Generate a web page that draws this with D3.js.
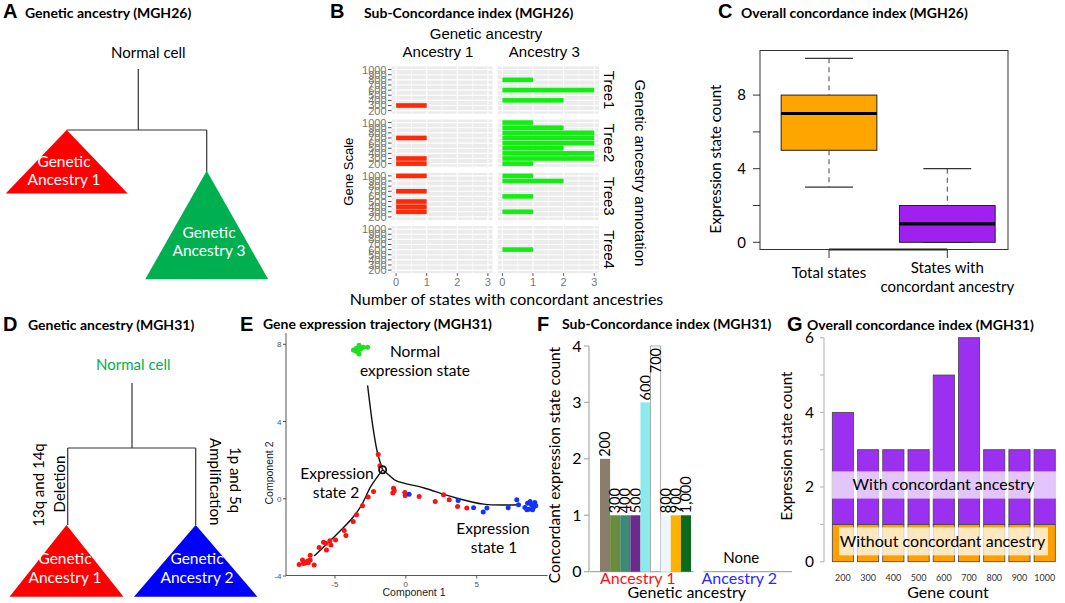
<!DOCTYPE html>
<html><head><meta charset="utf-8">
<script src="https://cdn.jsdelivr.net/npm/d3@7"></script>
<style>
body{margin:0;background:#fff}
svg{display:block}
</style></head><body>
<svg id="fig" width="1065" height="603"></svg>
<script>
// ================= DATA =================
const panelLetters = ["A","B","C","D","E","F","G"];
const panelTitles = ["Genetic ancestry (MGH26)","Sub-Concordance index (MGH26)","Overall concordance index (MGH26)",
  "Genetic ancestry (MGH31)","Gene expression trajectory (MGH31)","Sub-Concordance index (MGH31)","Overall concordance index (MGH31)"];

// Panel A / D tree diagrams
const aRootLabel = "Normal cell";
const aLeafLabels = [["Genetic","Ancestry 1"],["Genetic","Ancestry 3"]];
const dRootLabel = "Normal cell";
const dLeafLabels = [["Genetic","Ancestry 1"],["Genetic","Ancestry 2"]];
const dLeftEvent = ["13q and 14q","Deletion"];
const dRightEvent = ["1p and 5q","Amplification"];

// Panel B: sub-concordance (counts per gene scale 200..1000)
const bGeneScale = [200,300,400,500,600,700,800,900,1000];
const bTrees = ["Tree1","Tree2","Tree3","Tree4"];
const bAncestries = ["Ancestry 1","Ancestry 3"];
const bXTicks = [0,1,2,3];
const bTree1Anc1 = [0,1,0,0,0,0,0,0,0];
const bTree1Anc3 = [0,0,2,0,3,0,1,0,0];
const bTree2Anc1 = [1,1,0,0,0,1,0,0,0];
const bTree2Anc3 = [1,3,3,2,3,3,3,2,1];
const bTree3Anc1 = [0,1,1,1,0,1,0,0,1];
const bTree3Anc3 = [0,1,0,0,1,0,0,2,1];
const bTree4Anc1 = [0,0,0,0,0,0,0,0,0];
const bTree4Anc3 = [0,0,0,0,1,0,0,0,0];

// Panel C: boxplot stats
const cCategories = ["Total states","States with concordant ancestry"];
const cMin = [3,0];
const cQ1 = [5,0];
const cMedian = [7,1];
const cQ3 = [8,2];
const cMax = [10,4];
const cYTicks = [0,2,4,6,8];
const cYLabels = [0,4,8];

// Panel E: trajectory
const eGreen = [[-3.7,7.7],[-3.5,7.8],[-3.3,7.95],[-3.4,7.6],[-3.2,7.75],[-3.0,7.85],[-2.7,7.85],[-3.3,7.5],[-3.55,7.65]];
const eRed = [[-1.95,2.29],[-1.83,1.71],[-2.28,0.38],[-2.66,0.09],[-3.06,-0.36],[-3.48,-0.83],[-3.72,-1.18],
  [-4.35,-1.64],[-4.23,-1.9],[-4.96,-2.13],[-5.36,-2.18],[-5.29,-2.39],[-5.65,-2.3],[-5.81,-2.25],[-5.6,-2.65],
  [-6.12,-2.53],[-6.75,-2.93],[-6.94,-3.22],[-7.06,-3.31],[-7.22,-3.35],[-7.53,-3.4],[-7.29,-3.17],[-6.47,-3.43],
  [-6.75,-3.17],[-6.89,-3.32],
  [-0.87,0.55],[-0.82,0.42],[-0.92,0.3],[-0.07,0.33],[-0.05,0.17],[0.94,0.12],[2.07,-0.14],
  [2.66,0.21],[3.06,-0.05],[3.65,-0.4],[4.3,-0.48]];
const eBlue = [[0.23,0.24],[3.69,-0.09],[4.78,-0.47],[5.46,-0.69],[5.72,-0.48],[7.22,-0.47],[7.83,-0.05],[7.95,-0.31],
  [8.4,-0.45],[8.59,-0.23],[8.7,-0.54],[8.87,-0.31],[9.01,-0.45],[9.1,-0.19],[8.77,-0.14],[9.17,-0.36],[8.54,-0.57],[8.94,-0.57]];
const eBranchNormal = [[-2.7,5.87],[-2.3,3.6],[-2.0,2.37],[-1.64,1.5]];
const eBranchState2 = [[-1.64,1.5],[-2.47,0.64],[-3.18,-0.4],[-3.88,-1.09],[-4.8,-1.78],[-5.65,-2.39],[-6.47,-2.96]];
const eBranchState1 = [[-1.64,1.5],[-1.18,1.22],[-0.7,0.94],[1.29,0.56],[3.18,0.12],[5.5,-0.28],[7.9,-0.31]];
const eBranchPoint = [-1.64,1.5];
const eXTicks = [-5,0,5];
const eYTicks = [-4,0,4,8];

// Panel F
const fGroups = ["Ancestry 1","Ancestry 2"];
const fGenes = ["200","300","400","500","600","700","800","900","1,000"];
const fCounts = [2,1,1,1,3,4,1,1,1];
const fYTicks = [0,1,2,3,4];
const fEmptyLabel = "None";

// Panel G
const gGenes = ["200","300","400","500","600","700","800","900","1000"];
const gWithout = [1,1,1,1,1,1,1,1,1];
const gWith = [3,2,2,2,4,5,2,2,2];
const gYTicks = [0,1,2,3,4,5,6];
const gYLabels = [0,2,4,6];
const gSeriesLabels = ["With concordant ancestry","Without concordant ancestry"];

// ================= DRAWING =================
const svg = d3.select("#fig");
const CAL = "Lato, 'Open Sans', sans-serif";
const ARI = "'Liberation Sans', Arial, sans-serif";
function txt(g, x, y, s, o = {}) {
  const t = g.append("text").attr("x", x).attr("y", y).text(s)
    .attr("font-family", o.ff || CAL).attr("font-size", o.fs || 15)
    .attr("fill", o.fill || "#000").attr("text-anchor", o.anchor || "start");
  if (o.fw) t.attr("font-weight", o.fw);
  if (o.rot) t.attr("transform", `rotate(${o.rot},${x},${y})`);
  return t;
}
function ln(g, x1, y1, x2, y2, stroke, w, dash) {
  const l = g.append("line").attr("x1", x1).attr("y1", y1).attr("x2", x2).attr("y2", y2)
    .attr("stroke", stroke).attr("stroke-width", w);
  if (dash) l.attr("stroke-dasharray", dash);
  return l;
}

// Panel headings
const letterPos = [[3,18],[330,18],[718,18],[3,331],[240,331],[537,331],[787,331]];
const titlePos = [[25,18],[364,18],[741,18],[28,330],[263,329],[562,329],[807,330]];
panelLetters.forEach((L, i) => {
  txt(svg, letterPos[i][0], letterPos[i][1], L, {ff: ARI, fw: "bold", fs: 20});
  txt(svg, titlePos[i][0], titlePos[i][1], panelTitles[i], {fw: "bold", fs: 14});
});

// ---------- Tree diagrams (A, D) ----------
function tri(g, cx, top, halfW, h, color) {
  g.append("path").attr("d", `M${cx},${top}L${cx + halfW},${top + h}L${cx - halfW},${top + h}Z`).attr("fill", color);
}
const gA = svg.append("g");
txt(gA, 148.3, 58, aRootLabel, {anchor: "middle", fs: 15});
ln(gA, 138.3, 69, 138.3, 130, "#333", 1.2);
ln(gA, 66.7, 130, 206.7, 130, "#333", 1.2);
ln(gA, 206.7, 130, 206.7, 171.7, "#333", 1.2);
tri(gA, 66.7, 130, 61, 63.5, "#ff0000");
tri(gA, 206.7, 170.7, 61.5, 108.6, "#00b050");
aLeafLabels[0].forEach((s, i) => txt(gA, 64, 166.5 + i * 18, s, {anchor: "middle", fs: 15.5, fill: "#fff"}));
aLeafLabels[1].forEach((s, i) => txt(gA, 209, 237.5 + i * 18.5, s, {anchor: "middle", fs: 15.5, fill: "#fff"}));

const gD = svg.append("g");
txt(gD, 133.3, 370, dRootLabel, {anchor: "middle", fs: 15, fill: "#00b050"});
ln(gD, 132, 383, 132, 448, "#333", 1.2);
ln(gD, 67.7, 448, 195.7, 448, "#333", 1.2);
ln(gD, 67.7, 448, 67.7, 525, "#333", 1.2);
ln(gD, 195.7, 448, 195.7, 525, "#333", 1.2);
tri(gD, 66.5, 525, 57, 71.7, "#ff0000");
tri(gD, 195.7, 525, 61.7, 71.7, "#0000ff");
dLeafLabels[0].forEach((s, i) => txt(gD, 65, 563.5 + i * 19, s, {anchor: "middle", fs: 15.5, fill: "#fff"}));
dLeafLabels[1].forEach((s, i) => txt(gD, 197, 563.5 + i * 19, s, {anchor: "middle", fs: 15.5, fill: "#fff"}));
txt(gD, 44, 485, dLeftEvent[0], {anchor: "middle", fs: 15, rot: -90});
txt(gD, 64.5, 484, dLeftEvent[1], {anchor: "middle", fs: 15, rot: -90});
txt(gD, 230, 480, dRightEvent[0], {anchor: "middle", fs: 15, rot: 90});
txt(gD, 209.5, 481.7, dRightEvent[1], {anchor: "middle", fs: 15, rot: 90});

// ---------- Panel B ----------
const gB = svg.append("g");
const bGrid = [[bTree1Anc1, bTree1Anc3],[bTree2Anc1, bTree2Anc3],[bTree3Anc1, bTree3Anc3],[bTree4Anc1, bTree4Anc3]];
const bColors = ["#fb2a08", "#12ee12"];
const bColX = [[391.5, 492.5],[497.8, 598.8]];
const bRowTop = [66.5, 119.5, 172.8, 226];
const bRowH = 47.2;
bTrees.forEach((tree, r) => {
  const y = d3.scalePoint().domain(bGeneScale.slice().reverse()).range([bRowTop[r], bRowTop[r] + bRowH]).padding(0.6);
  const step = y.step();
  bAncestries.forEach((anc, c) => {
    const x = d3.scaleLinear().domain([-0.15, 3.15]).range(bColX[c]);
    gB.append("rect").attr("x", bColX[c][0]).attr("y", bRowTop[r]).attr("width", bColX[c][1] - bColX[c][0])
      .attr("height", bRowH).attr("fill", "#ebebeb");
    [0.5, 1.5, 2.5].forEach(v => ln(gB, x(v), bRowTop[r], x(v), bRowTop[r] + bRowH, "#fff", 0.6));
    bXTicks.forEach(v => ln(gB, x(v), bRowTop[r], x(v), bRowTop[r] + bRowH, "#fff", 1.1));
    bGeneScale.forEach(gv => ln(gB, bColX[c][0], y(gv), bColX[c][1], y(gv), "#fff", 1.1));
    bGrid[r][c].forEach((v, i) => {
      if (v > 0) gB.append("rect").attr("x", x(0)).attr("y", y(bGeneScale[i]) - step * 0.45)
        .attr("width", x(v) - x(0)).attr("height", step * 0.9).attr("fill", bColors[c]);
    });
    if (r === bTrees.length - 1) {
      bXTicks.forEach(v => {
        ln(gB, x(v), bRowTop[r] + bRowH, x(v), bRowTop[r] + bRowH + 2.7, "#555", 1);
        txt(gB, x(v), 286, v, {ff: ARI, fs: 11, anchor: "middle", fill: "#777"});
      });
    }
    if (r === 0) txt(gB, (bColX[c][0] + bColX[c][1]) / 2 - 4, 57, anc, {ff: ARI, fs: 15, anchor: "middle"});
  });
  bGeneScale.forEach(gv => {
    ln(gB, bColX[0][0] - 3.5, y(gv), bColX[0][0], y(gv), "#555", 1);
    txt(gB, bColX[0][0] - 5, y(gv) + 4, gv, {ff: ARI, fs: 11, anchor: "end", fill: "#777"});
  });
  txt(gB, 604, bRowTop[r] + bRowH / 2, tree, {ff: ARI, fs: 15, anchor: "middle", rot: 90});
});
txt(gB, 486, 39.3, "Genetic ancestry", {ff: ARI, fs: 15, anchor: "middle"});
txt(gB, 635, 173, "Genetic ancestry annotation", {ff: ARI, fs: 15, anchor: "middle", rot: 90});
txt(gB, 353, 171.7, "Gene Scale", {ff: ARI, fs: 13, anchor: "middle", rot: -90});
txt(gB, 506.5, 304.5, "Number of states with concordant ancestries", {fs: 16, anchor: "middle"});

// ---------- Panel C ----------
const gC = svg.append("g");
const cY = d3.scaleLinear().domain([0, 10]).range([242.3, 58.3]);
const cX = d3.scalePoint().domain(cCategories).range([829, 947.3]);
const cBoxW = 95.7;
const cFill = ["#ffa500", "#a020f0"];
gC.append("rect").attr("x", 760).attr("y", 50.5).attr("width", 248).attr("height", 199).attr("fill", "none").attr("stroke", "#333").attr("stroke-width", 1);
cCategories.forEach((cat, i) => {
  const cx = cX(cat);
  ln(gC, cx, cY(cMax[i]), cx, cY(cQ3[i]), "#444", 1, "5,4");
  ln(gC, cx, cY(cQ1[i]), cx, cY(cMin[i]), "#444", 1, "5,4");
  ln(gC, cx - cBoxW / 4, cY(cMax[i]), cx + cBoxW / 4, cY(cMax[i]), "#333", 1.2);
  ln(gC, cx - cBoxW / 4, cY(cMin[i]), cx + cBoxW / 4, cY(cMin[i]), "#333", 1.2);
  gC.append("rect").attr("x", cx - cBoxW / 2).attr("y", cY(cQ3[i])).attr("width", cBoxW)
    .attr("height", cY(cQ1[i]) - cY(cQ3[i])).attr("fill", cFill[i]).attr("stroke", "#222").attr("stroke-width", 1);
  ln(gC, cx - cBoxW / 2, cY(cMedian[i]), cx + cBoxW / 2, cY(cMedian[i]), "#000", 3.2);
  ln(gC, cx, 249.5, cx, 258, "#333", 1);
});
ln(gC, cX(cCategories[0]), 249.5, cX(cCategories[1]), 249.5, "#222", 1.8);
cYTicks.forEach(v => ln(gC, 753, cY(v), 760, cY(v), "#333", 1));
cYLabels.forEach(v => txt(gC, 746, cY(v) + 5.3, v, {fs: 15, anchor: "end"}));
txt(gC, 829, 278, "Total states", {fs: 15, anchor: "middle"});
txt(gC, 947.3, 273, "States with", {fs: 15, anchor: "middle"});
txt(gC, 947.3, 292, "concordant ancestry", {fs: 15, anchor: "middle"});
txt(gC, 720.5, 159, "Expression state count", {fs: 15, anchor: "middle", rot: -90});

// ---------- Panel E ----------
const gE = svg.append("g");
const eX = d3.scaleLinear().domain([-5, 5]).range([335, 476.7]);
const eY = d3.scaleLinear().domain([-4, 8]).range([576, 344.3]);
ln(gE, 286, 333, 286, 575.5, "#444", 0.9);
ln(gE, 286, 575.5, 547.5, 575.5, "#444", 0.9);
eXTicks.forEach(v => { ln(gE, eX(v), 575.5, eX(v), 578.5, "#444", 0.9); txt(gE, eX(v), 587, v, {ff: ARI, fs: 8, anchor: "middle", fill: "#555"}); });
eYTicks.forEach(v => { ln(gE, 283, eY(v), 286, eY(v), "#444", 0.9); txt(gE, 281.5, eY(v) + 3, v, {ff: ARI, fs: 8, anchor: "end", fill: "#555"}); });
txt(gE, 414, 596, "Component 1", {ff: ARI, fs: 10.5, anchor: "middle", fill: "#222"});
txt(gE, 272.5, 473, "Component 2", {ff: ARI, fs: 10.5, anchor: "middle", rot: -90, fill: "#222"});
const eLine = d3.line().x(d => eX(d[0])).y(d => eY(d[1])).curve(d3.curveCatmullRom);
[eBranchNormal, eBranchState2, eBranchState1].forEach(b =>
  gE.append("path").attr("d", eLine(b)).attr("fill", "none").attr("stroke", "#111").attr("stroke-width", 1.4));
const ePts = [[eGreen, "#22dd22"], [eRed, "#ff1111"], [eBlue, "#1133ff"]];
ePts.forEach(([pts, col]) => gE.selectAll(null).data(pts).enter().append("circle")
  .attr("cx", d => eX(d[0])).attr("cy", d => eY(d[1])).attr("r", 2.5).attr("fill", col));
gE.append("circle").attr("cx", eX(eBranchPoint[0])).attr("cy", eY(eBranchPoint[1])).attr("r", 3.6)
  .attr("fill", "none").attr("stroke", "#111").attr("stroke-width", 1.8);
txt(gE, 415, 357, "Normal", {fs: 15.5, anchor: "middle"});
txt(gE, 415, 376, "expression state", {fs: 15.5, anchor: "middle"});
txt(gE, 337, 479, "Expression", {fs: 15.5, anchor: "middle"});
txt(gE, 336, 498, "state 2", {fs: 15.5, anchor: "middle"});
txt(gE, 493, 534, "Expression", {fs: 15.5, anchor: "middle"});
txt(gE, 494, 553, "state 1", {fs: 15.5, anchor: "middle"});

// ---------- Panel F ----------
const gF = svg.append("g");
const fY = d3.scaleLinear().domain([0, 4]).range([571.7, 346]);
const fGroupX = d3.scaleBand().domain(fGroups).range([589, 792]);
const fBarX = d3.scaleBand().domain(fGenes).range([fGroupX(fGroups[0]) + 11, fGroupX(fGroups[0]) + fGroupX.bandwidth() + 0.5]);
const fColors = ["#8a7d6c", "#6a8c3c", "#3b8a76", "#6a2a8e", "#8ce9ec", "#ffffff", "#eef6fb", "#ffb300", "#0b6b1c"];
const fGroupColors = ["#ff1010", "#2a2aff"];
ln(gF, 589, fY(4), 589, fY(0), "#aaa", 1.2);
fYTicks.forEach(v => { ln(gF, 584, fY(v), 589, fY(v), "#aaa", 1.2); txt(gF, 581.5, fY(v) + 5.5, v, {fs: 16, anchor: "end"}); });
fGroups.forEach((gname, i) => {
  ln(gF, fGroupX(gname) + 1 + i * 12, fY(0), fGroupX(gname) + fGroupX.bandwidth() + 3 - i * 3, fY(0), "#aaa", 1.2);
  txt(gF, fGroupX(gname) + fGroupX.bandwidth() / 2 - 2, 584, gname, {fs: 16, anchor: "middle", fill: fGroupColors[i]});
});
txt(gF, fGroupX(fGroups[1]) + fGroupX.bandwidth() / 2, 563, fEmptyLabel, {fs: 15, anchor: "middle"});
txt(gF, 686.7, 598, "Genetic ancestry", {fs: 16, anchor: "middle"});
txt(gF, 560, 465, "Concordant expression state count", {fs: 15.5, anchor: "middle", rot: -90});
fGenes.forEach((gn, i) => {
  const x0 = fBarX(gn), w = fBarX.bandwidth(), top = fY(fCounts[i]);
  gF.append("rect").attr("x", x0).attr("y", top).attr("width", w).attr("height", fY(0) - top)
    .attr("fill", fColors[i]).attr("stroke", fColors[i] === "#ffffff" ? "#999" : "none").attr("stroke-width", 0.8);
  const fs = 14.5, cx = x0 + w / 2 + fs * 0.36;
  const t = txt(gF, cx, 0, gn, {fs: fs});
  const len = t.node().getComputedTextLength();
  let yStart = top - 2;
  if (yStart - len < fY(4) - 2) yStart = fY(4) + 2 + len;
  t.attr("y", yStart).attr("transform", `rotate(-90,${cx},${yStart})`);
});

// ---------- Panel G ----------
const gG = svg.append("g");
const gY = d3.scaleLinear().domain([0, 6]).range([561.7, 337.7]);
const gX = d3.scaleBand().domain(gGenes).range([830.3, 1057.3]).paddingInner(0.16).paddingOuter(0.08);
ln(gG, 824, gY(6), 824, gY(0), "#bbb", 1.2);
gYTicks.forEach(v => ln(gG, 820, gY(v), 824, gY(v), "#bbb", 1.2));
gYLabels.forEach(v => txt(gG, 814, gY(v) + 5.3, v, {fs: 15.5, anchor: "end"}));
gGenes.forEach((gn, i) => {
  const x0 = gX(gn), w = gX.bandwidth();
  gG.append("rect").attr("x", x0).attr("y", gY(gWithout[i])).attr("width", w).attr("height", gY(0) - gY(gWithout[i]))
    .attr("fill", "#ffa000").attr("stroke", "#444").attr("stroke-width", 0.8);
  gG.append("rect").attr("x", x0).attr("y", gY(gWithout[i] + gWith[i])).attr("width", w)
    .attr("height", gY(gWithout[i]) - gY(gWithout[i] + gWith[i]))
    .attr("fill", "#9b30f0").attr("stroke", "#444").attr("stroke-width", 0.8);
  txt(gG, x0 + w / 2, 581, gn, {fs: 9, anchor: "middle", fill: "#333"});
});
gG.append("rect").attr("x", 832).attr("y", gY(2.42)).attr("width", 224).attr("height", gY(1.69) - gY(2.42)).attr("fill", "#fff").attr("opacity", 0.72);
gG.append("rect").attr("x", 839).attr("y", gY(0.92)).attr("width", 209).attr("height", gY(0.17) - gY(0.92)).attr("fill", "#fff").attr("opacity", 0.75);
txt(gG, 943.5, 490, gSeriesLabels[0], {fs: 16, anchor: "middle"});
txt(gG, 942.5, 547, gSeriesLabels[1], {fs: 16, anchor: "middle"});
txt(gG, 948, 598, "Gene count", {fs: 16, anchor: "middle"});
txt(gG, 792, 446, "Expression state count", {fs: 15, anchor: "middle", rot: -90});
</script></body></html>
